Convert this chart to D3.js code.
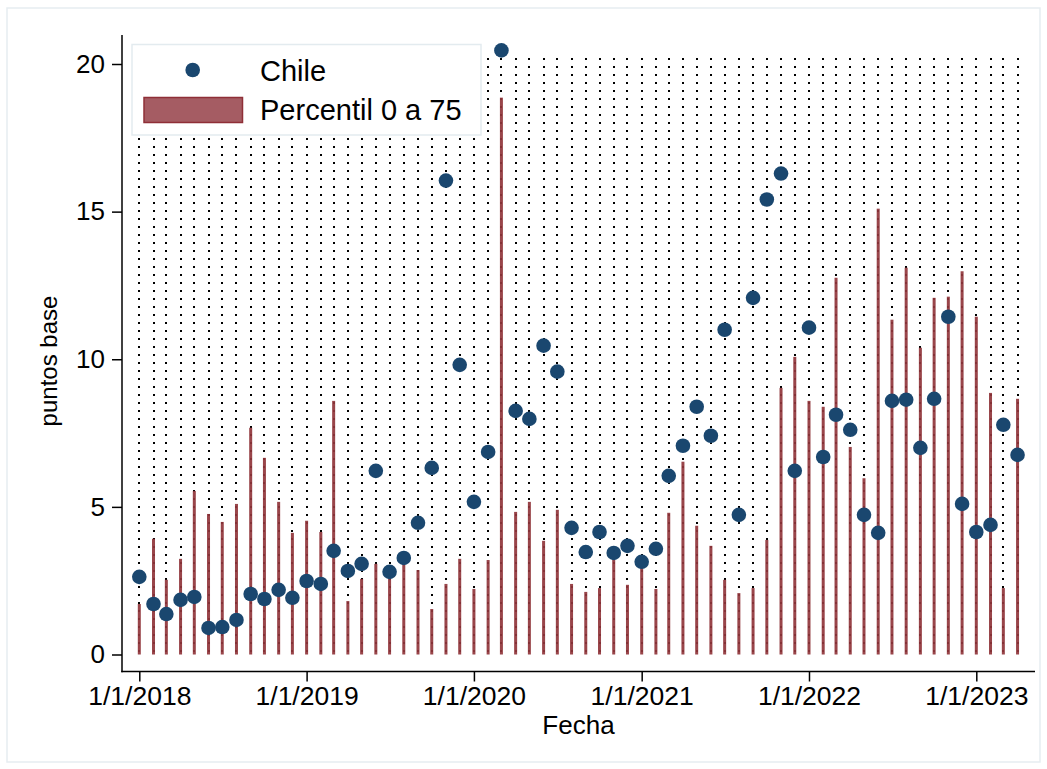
<!DOCTYPE html>
<html>
<head>
<meta charset="utf-8">
<script src="https://cdn.jsdelivr.net/npm/d3@7"></script>
<style>
  html, body { margin: 0; padding: 0; background: #ffffff; }
  svg { display: block; font-family: "Liberation Sans", Arial, Helvetica, sans-serif; }
</style>
</head>
<body>
<svg id="chart" width="1047" height="769"></svg>
<script>
// ---- data ----
const months = [
  "2018-01","2018-02","2018-03","2018-04","2018-05","2018-06","2018-07","2018-08","2018-09","2018-10","2018-11","2018-12",
  "2019-01","2019-02","2019-03","2019-04","2019-05","2019-06","2019-07","2019-08","2019-09","2019-10","2019-11","2019-12",
  "2020-01","2020-02","2020-03","2020-04","2020-05","2020-06","2020-07","2020-08","2020-09","2020-10","2020-11","2020-12",
  "2021-01","2021-02","2021-03","2021-04","2021-05","2021-06","2021-07","2021-08","2021-09","2021-10","2021-11","2021-12",
  "2022-01","2022-02","2022-03","2022-04","2022-05","2022-06","2022-07","2022-08","2022-09","2022-10","2022-11","2022-12",
  "2023-01","2023-02","2023-03","2023-04"
];
const chile = [
  2.63,1.71,1.37,1.85,1.95,0.90,0.93,1.17,2.05,1.88,2.19,1.92,
  2.49,2.39,3.51,2.83,3.07,6.22,2.80,3.27,4.46,6.32,16.05,9.81,
  5.17,6.86,20.46,8.25,7.98,10.46,9.58,4.29,3.47,4.15,3.44,3.68,
  3.14,3.58,6.05,7.07,8.39,7.41,11.00,4.73,12.08,15.41,16.29,6.22,
  11.07,6.69,8.12,7.61,4.73,4.12,8.59,8.63,7.00,8.66,11.44,5.10,
  4.15,4.39,7.78,6.76
];
const p75 = [
  1.71,3.92,2.53,3.24,5.54,4.76,4.49,5.10,7.68,6.66,5.17,4.12,
  4.53,4.15,8.59,1.81,2.56,3.07,3.00,3.31,2.86,1.54,2.39,3.24,
  2.22,3.20,18.86,4.83,5.17,3.85,4.90,2.39,2.12,2.25,3.31,2.36,
  3.37,2.22,4.80,6.53,4.36,3.68,2.53,2.08,2.25,3.88,9.03,10.08,
  8.59,8.39,12.76,7.03,5.97,15.10,11.34,13.10,10.39,12.08,12.12,12.98,
  11.44,8.86,2.25,8.66
];
const rangeTop = 20.2;   // upper end of the dotted range lines
const yTicks = [0, 5, 10, 15, 20];
const xTickDates = ["2018-01-01","2019-01-01","2020-01-01","2021-01-01","2022-01-01","2023-01-01"];
const legendLabels = ["Chile", "Percentil 0 a 75"];

// ---- setup ----
const svg = d3.select("#chart");
const parseM = d3.timeParse("%Y-%m");
const parseD = d3.timeParse("%Y-%m-%d");
const fmtTick = d3.timeFormat("%-m/%-d/%Y");
const dates = months.map(parseM);

const x = d3.scaleTime()
  .domain([parseD("2018-01-01"), parseD("2023-01-01")])
  .range([139.3, 976.3]);
const y = d3.scaleLinear().domain([0, 20]).range([654.5, 64]);

const axisX = 122, axisY = 671.5, axisRight = 1035, axisTop = 35;

// outer frame
svg.append("rect")
  .attr("x", 7).attr("y", 8).attr("width", 1033).attr("height", 754)
  .attr("fill", "#ffffff").attr("stroke", "#e6edf1").attr("stroke-width", 1.5);

// dotted range lines
svg.append("g").selectAll("line").data(dates).join("line")
  .attr("x1", d => Math.round(x(d))).attr("x2", d => Math.round(x(d)))
  .attr("y1", Math.round(y(rangeTop))).attr("y2", Math.round(y(0)) + 1)
  .attr("stroke", "#000").attr("stroke-width", 2)
  .attr("stroke-dasharray", "2 6")
  .attr("shape-rendering", "crispEdges");

// bars (percentil 0 a 75)
svg.append("g").selectAll("rect").data(dates).join("rect")
  .attr("x", d => x(d) - 1.5)
  .attr("width", 3)
  .attr("y", (d, i) => y(p75[i]))
  .attr("height", (d, i) => y(0) - y(p75[i]))
  .attr("fill", "#90353b").attr("fill-opacity", 0.92);

// Chile points
svg.append("g").selectAll("circle").data(dates).join("circle")
  .attr("cx", d => x(d))
  .attr("cy", (d, i) => y(chile[i]))
  .attr("r", 7.3)
  .attr("fill", "#1a476f");

// axes
const gy = svg.append("g").attr("transform", `translate(${axisX},0)`)
  .call(d3.axisLeft(y).tickValues(yTicks).tickSize(10).tickPadding(7).tickFormat(d3.format("d")));
gy.select(".domain").remove();
gy.selectAll("line").attr("stroke", "#000").attr("stroke-width", 1.5);
gy.selectAll("text").attr("font-size", 26).attr("fill", "#000")
  .style("font-family", "'Liberation Sans', Arial, sans-serif");
svg.append("line").attr("x1", axisX).attr("x2", axisX).attr("y1", axisTop).attr("y2", axisY + 0.75)
  .attr("stroke", "#000").attr("stroke-width", 1.5);

const gx = svg.append("g").attr("transform", `translate(0,${axisY})`)
  .call(d3.axisBottom(x).tickValues(xTickDates.map(parseD)).tickSize(10).tickPadding(5).tickFormat(fmtTick));
gx.select(".domain").remove();
gx.selectAll("line").attr("stroke", "#000").attr("stroke-width", 1.5);
gx.selectAll("text").attr("font-size", 26.5).attr("fill", "#000")
  .style("font-family", "'Liberation Sans', Arial, sans-serif");
svg.append("line").attr("x1", axisX - 0.75).attr("x2", axisRight).attr("y1", axisY).attr("y2", axisY)
  .attr("stroke", "#000").attr("stroke-width", 1.5);

// axis titles
svg.append("text").attr("x", (axisX + axisRight) / 2).attr("y", 734)
  .attr("text-anchor", "middle").attr("font-size", 26).attr("fill", "#000").text("Fecha");
svg.append("text")
  .attr("transform", "translate(57,361) rotate(-90)")
  .attr("text-anchor", "middle").attr("font-size", 24).attr("fill", "#000").text("puntos base");

// legend
const lg = svg.append("g");
lg.append("rect").attr("x", 132).attr("y", 44.5).attr("width", 349).attr("height", 90.5)
  .attr("fill", "#fff").attr("stroke", "#e3ebef").attr("stroke-width", 1.5);
lg.append("circle").attr("cx", 192.7).attr("cy", 70).attr("r", 7.3).attr("fill", "#1a476f");
lg.append("text").attr("x", 260).attr("y", 80.5).attr("font-size", 29).attr("fill", "#000").text(legendLabels[0]);
lg.append("rect").attr("x", 144).attr("y", 97.5).attr("width", 98.5).attr("height", 25)
  .attr("fill", "#a55c63").attr("stroke", "#8f2f37").attr("stroke-width", 1.5);
lg.append("text").attr("x", 260).attr("y", 120).attr("font-size", 29).attr("fill", "#000").text(legendLabels[1]);
</script>
</body>
</html>
